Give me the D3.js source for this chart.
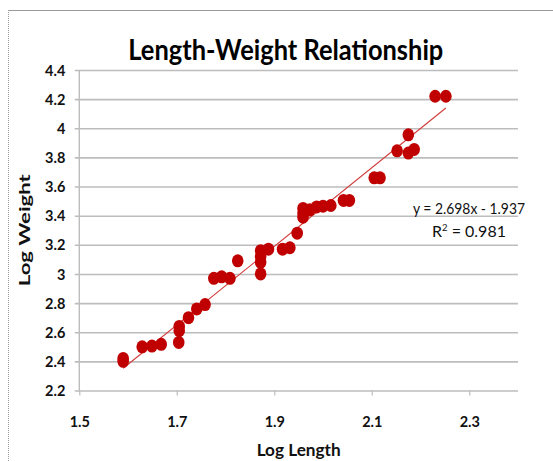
<!DOCTYPE html>
<html>
<head>
<meta charset="utf-8">
<script src="https://cdn.jsdelivr.net/npm/d3@7"></script>
<style>
  html, body { margin: 0; padding: 0; background: #ffffff; }
  svg { display: block; }
</style>
</head>
<body>
<svg id="chart" width="553" height="461"></svg>
<script>
// ---- data ----
const logLength = [1.590, 1.590, 1.629, 1.649, 1.668, 1.704, 1.705, 1.705, 1.724, 1.741,
                   1.758, 1.776, 1.792, 1.809, 1.825, 1.872, 1.872, 1.872, 1.872, 1.888,
                   1.917, 1.932, 1.947, 1.959, 1.959, 1.959, 1.973, 1.987, 2.000, 2.016,
                   2.042, 2.054, 2.105, 2.117, 2.152, 2.175, 2.175, 2.187, 2.230, 2.252];
const logWeight = [2.42, 2.40, 2.50, 2.505, 2.517, 2.53, 2.64, 2.61, 2.70, 2.76,
                   2.79, 2.97, 2.98, 2.97, 3.09, 3.16, 3.12, 3.08, 3.00, 3.17,
                   3.17, 3.18, 3.28, 3.45, 3.42, 3.39, 3.44, 3.46, 3.465, 3.47,
                   3.505, 3.505, 3.66, 3.66, 3.845, 3.955, 3.83, 3.855, 4.22, 4.22];
const xTicks = [1.5, 1.7, 1.9, 2.1, 2.3];
const yTicks = [2.2, 2.4, 2.6, 2.8, 3.0, 3.2, 3.4, 3.6, 3.8, 4.0, 4.2, 4.4];
const xTickLabels = ["1.5", "1.7", "1.9", "2.1", "2.3"];
const yTickLabels = ["2.2", "2.4", "2.6", "2.8", "3", "3.2", "3.4", "3.6", "3.8", "4", "4.2", "4.4"];
const trendSlope = 2.698;
const trendIntercept = -1.937;
const trendRange = [1.59, 2.252];
const titleText = "Length-Weight Relationship";
const xTitle = "Log Length";
const yTitle = "Log Weight";
const eqText = "y = 2.698x - 1.937";
const r2Value = "0.981";

// ---- layout ----
const FONT = "Lato, 'Open Sans', 'DejaVu Sans', sans-serif";
const svg = d3.select("#chart");
const plot = { left: 79.3, right: 518, top: 70, bottom: 390.5 };

const x = d3.scaleLinear().domain([1.5, 2.4]).range([plot.left, plot.right]);
const y = d3.scaleLinear().domain([2.2, 4.4]).range([plot.bottom, plot.top]);

// frame
svg.append("line").attr("x1", 8).attr("x2", 553).attr("y1", 10.5).attr("y2", 10.5)
  .attr("stroke", "#9a9a9a").attr("stroke-width", 1);
svg.append("line").attr("x1", 8.5).attr("x2", 8.5).attr("y1", 10).attr("y2", 461)
  .attr("stroke", "#9a9a9a").attr("stroke-width", 1).attr("stroke-dasharray", "1,1");

// horizontal gridlines via y axis
const yAxis = d3.axisLeft(y).tickValues(yTicks)
  .tickSize(-(plot.right - plot.left))
  .tickFormat((d, i) => yTickLabels[i]);
const gy = svg.append("g").attr("transform", `translate(${plot.left},0)`).call(yAxis);
gy.select(".domain").remove();
gy.selectAll(".tick line").attr("stroke", "#bdbdbd").attr("stroke-width", 1.6)
  .attr("x1", -4.5);
gy.selectAll(".tick text")
  .attr("x", -14)
  .attr("dy", "0.35em")
  .attr("font-family", FONT).attr("font-weight", 700).attr("font-size", 14.5)
  .attr("fill", "#111");

// vertical axis line
svg.append("line").attr("x1", plot.left).attr("x2", plot.left)
  .attr("y1", plot.top).attr("y2", plot.bottom + 0.8)
  .attr("stroke", "#bdbdbd").attr("stroke-width", 1.4);

// x axis ticks + labels
const xAxis = d3.axisBottom(x).tickValues(xTicks).tickSize(5)
  .tickFormat((d, i) => xTickLabels[i]);
const gx = svg.append("g").attr("transform", `translate(0,${plot.bottom})`).call(xAxis);
gx.select(".domain").remove();
gx.selectAll(".tick line").attr("stroke", "#bdbdbd").attr("stroke-width", 1.2);
gx.selectAll(".tick text")
  .attr("y", 36).attr("dy", 0)
  .attr("font-family", FONT).attr("font-weight", 700).attr("font-size", 14.5)
  .attr("fill", "#111");

// trend line
svg.append("line")
  .attr("x1", x(trendRange[0])).attr("y1", y(trendSlope * trendRange[0] + trendIntercept))
  .attr("x2", x(trendRange[1])).attr("y2", y(trendSlope * trendRange[1] + trendIntercept))
  .attr("stroke", "#d23a3a").attr("stroke-width", 1.1);

// points
svg.append("g").selectAll("ellipse")
  .data(logLength.map((v, i) => [v, logWeight[i]]))
  .join("ellipse")
  .attr("cx", d => x(d[0])).attr("cy", d => y(d[1]))
  .attr("rx", 5.8).attr("ry", 6.5)
  .attr("fill", "#c00000");

// title
svg.append("text").text(titleText)
  .attr("x", 285.8).attr("y", 60).attr("text-anchor", "middle")
  .attr("font-family", FONT).attr("font-weight", 700).attr("font-size", 28)
  .attr("textLength", 315).attr("lengthAdjust", "spacingAndGlyphs")
  .attr("fill", "#000");

// axis titles
svg.append("text").text(xTitle)
  .attr("x", (plot.left + plot.right) / 2).attr("y", 456).attr("text-anchor", "middle")
  .attr("font-family", FONT).attr("font-weight", 700).attr("font-size", 17)
  .attr("textLength", 84).attr("lengthAdjust", "spacingAndGlyphs")
  .attr("fill", "#111");

svg.append("text").text(yTitle)
  .attr("transform", `translate(30,${(plot.top + plot.bottom) / 2}) rotate(-90)`)
  .attr("text-anchor", "middle")
  .attr("font-family", FONT).attr("font-weight", 700).attr("font-size", 16)
  .attr("textLength", 112).attr("lengthAdjust", "spacingAndGlyphs")
  .attr("fill", "#111");

// equation label
svg.append("text").text(eqText)
  .attr("x", 469).attr("y", 214).attr("text-anchor", "middle")
  .attr("font-family", FONT).attr("font-size", 16)
  .attr("textLength", 112).attr("lengthAdjust", "spacingAndGlyphs")
  .attr("fill", "#111");
const r2 = svg.append("text")
  .attr("x", 469).attr("y", 237).attr("text-anchor", "middle")
  .attr("font-family", FONT).attr("font-size", 16)
  .attr("fill", "#111");
r2.append("tspan").text("R");
r2.append("tspan").text("2").attr("font-size", 9.5).attr("dy", -6);
r2.append("tspan").text(" = " + r2Value).attr("dy", 6);
</script>
</body>
</html>
